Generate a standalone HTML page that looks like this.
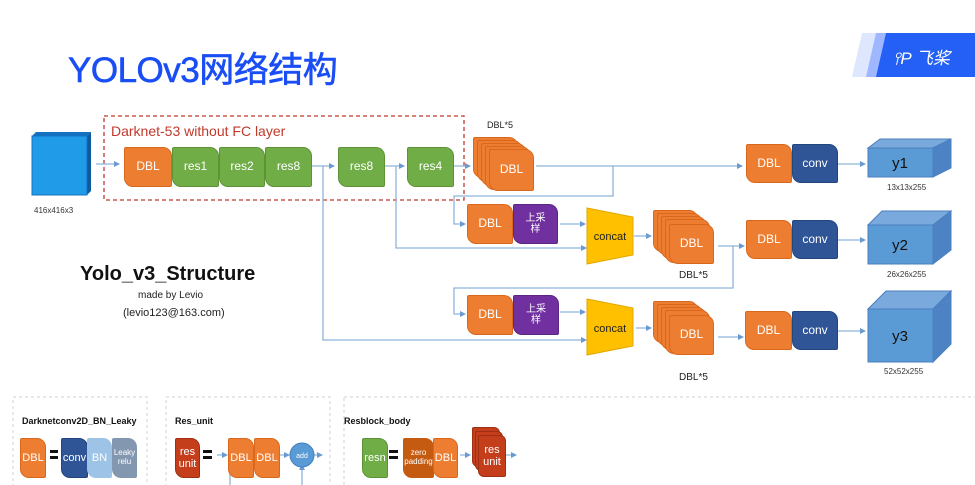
<!DOCTYPE html>
<html><head><meta charset="utf-8"><style>
body{margin:0;width:975px;height:485px;background:#fff;position:relative;overflow:hidden;font-family:"Liberation Sans","Noto Sans CJK SC",sans-serif}
.b{position:absolute;color:#fff;display:flex;align-items:center;justify-content:center;text-align:center;font-size:12px;border-radius:2px 9px 2px 9px;box-sizing:border-box;line-height:1.1}
.o{background:#ed7d31;border:1px solid #d9681d}.g{background:#70ad47;border:1px solid #5e9236}.c{background:#2f5597;border:1px solid #23457e}.p{background:#7030a0;border:1px solid #5b2584}
.r{background:#c43e1c;border:1px solid #9e2f12}
.t{position:absolute;white-space:nowrap}
.s{position:absolute;font-size:8px;color:#333}
</style></head><body>
<div class="t" style="left:68px;top:42px;font-size:35px;color:#1a4ef5;font-family:'Liberation Sans','Noto Sans CJK SC',sans-serif;letter-spacing:-0.5px;-webkit-text-stroke:0.6px #1a4ef5">YOLOv3网络结构</div>
<svg style="position:absolute;left:0;top:0" width="975" height="485">
<polygon points="862,33 975,33 975,77 852,77" fill="#dfe7ff"/>
<polygon points="876,33 975,33 975,77 866,77" fill="#9fb7ff"/>
<polygon points="886,33 975,33 975,77 876,77" fill="#2460f5"/>
<text x="893" y="64" font-size="17" fill="#fff" font-style="italic" font-family="Liberation Sans,Noto Sans CJK SC,sans-serif">⫯P 飞桨</text>
<rect x="104" y="116" width="360" height="84" fill="none" stroke="#c0392b" stroke-width="1.3" stroke-dasharray="4,3"/>
<polygon points="32,136 36,132 91,132 87,136" fill="#1570c0"/>
<polygon points="87,136 91,132 91,191 87,195" fill="#0d5aa0"/>
<rect x="32" y="136" width="55" height="59" fill="#1f9be8" stroke="#1570c0"/>
<g stroke="#8fb4dc" stroke-width="1.3" fill="none">
<path d="M96 164H119M312 166H334M385 166H404M454 166H470M536 166H742M613 166V196H454V224H463M323 166V340H584M396 166V248H584M560 224H583M634 236H649M718 246H742M733 246V288H454V314H463M560 312H583M636 328H649M718 337H741M838 164H863M838 240H863M838 331H863"/>
<path d="M230 455V485M302 485V470M217 455H224M280 455H286M314 455H320M460 455H468M503 455H514"/>
</g>
<g fill="#6a9ad0">
<path d="M120 164l-6-3v6zM335 166l-6-3v6zM405 166l-6-3v6zM471 166l-6-3v6zM743 166l-6-3v6zM466 224l-6-3v6zM587 248l-6-3v6zM587 340l-6-3v6zM586 224l-6-3v6zM652 236l-6-3v6zM745 246l-6-3v6zM466 314l-6-3v6zM586 312l-6-3v6zM652 328l-6-3v6zM744 337l-6-3v6zM866 164l-6-3v6zM866 240l-6-3v6zM866 331l-6-3v6zM228 455l-6-3v6zM290 455l-6-3v6zM323 455l-6-3v6zM302 464l-3 6h6zM471 455l-6-3v6zM517 455l-6-3v6z"/>
</g>
<polygon points="587,208 633,217 633,255 587,264" fill="#ffc000" stroke="#e0a800"/>
<polygon points="587,299 633,308 633,346 587,355" fill="#ffc000" stroke="#e0a800"/>
<text x="610" y="240" font-size="11" text-anchor="middle" fill="#222">concat</text>
<text x="610" y="332" font-size="11" text-anchor="middle" fill="#222">concat</text>
<g stroke="#4a7fbf" stroke-width="1">
<polygon points="868,148 880,139 951,139 933,148" fill="#7aa9de"/><polygon points="933,148 951,139 951,168 933,177" fill="#4d83c4"/><rect x="868" y="148" width="65" height="29" fill="#5b9bd5"/>
<polygon points="868,225 882,211 951,211 933,225" fill="#7aa9de"/><polygon points="933,225 951,211 951,250 933,264" fill="#4d83c4"/><rect x="868" y="225" width="65" height="39" fill="#5b9bd5"/>
<polygon points="868,309 886,291 951,291 933,309" fill="#7aa9de"/><polygon points="933,309 951,291 951,344 933,362" fill="#4d83c4"/><rect x="868" y="309" width="65" height="53" fill="#5b9bd5"/>
</g>
<g font-size="15" fill="#111" text-anchor="middle"><text x="900" y="168">y1</text><text x="900" y="250">y2</text><text x="900" y="341">y3</text></g>
<g fill="none" stroke="#d0d0d0" stroke-dasharray="3,3"><rect x="13" y="397" width="134" height="100"/><rect x="166" y="397" width="164" height="100"/><rect x="344" y="397" width="640" height="100"/></g>
<rect x="50" y="450" width="8" height="3" fill="#111"/><rect x="50" y="456" width="8" height="3" fill="#111"/>
<rect x="203" y="450" width="9" height="3" fill="#111"/><rect x="203" y="456" width="9" height="3" fill="#111"/>
<rect x="389" y="450" width="9" height="3" fill="#111"/><rect x="389" y="456" width="9" height="3" fill="#111"/>
<circle cx="302" cy="455" r="12" fill="#5b9bd5" stroke="#3f7fc0"/><text x="302" y="458" font-size="7" fill="#fff" text-anchor="middle">add</text>
</svg>
<div class="s" style="left:34px;top:206px">416x416x3</div>
<div class="t" style="left:111px;top:123px;font-size:14px;color:#c0392b">Darknet-53 without FC layer</div>
<div class="b o" style="left:124px;top:147px;width:48px;height:40px">DBL</div>
<div class="b g" style="left:172px;top:147px;width:47px;height:40px">res1</div>
<div class="b g" style="left:219px;top:147px;width:46px;height:40px">res2</div>
<div class="b g" style="left:265px;top:147px;width:47px;height:40px">res8</div>
<div class="b g" style="left:338px;top:147px;width:47px;height:40px">res8</div>
<div class="b g" style="left:407px;top:147px;width:47px;height:40px">res4</div>
<div class="t" style="left:80px;top:263px;font-size:20px;font-weight:bold;color:#111">Yolo_v3_Structure</div>
<div class="t" style="left:138px;top:290px;font-size:10px;color:#222">made by Levio</div>
<div class="t" style="left:123px;top:307px;font-size:11px;color:#222">(levio123@163.com)</div>
<div class="t" style="left:487px;top:120px;font-size:9px;color:#222">DBL*5</div>
<div class="b o" style="left:473px;top:137px;width:45px;height:41px"></div>
<div class="b o" style="left:477px;top:140px;width:45px;height:42px"></div>
<div class="b o" style="left:481px;top:143px;width:45px;height:43px"></div>
<div class="b o" style="left:485px;top:146px;width:45px;height:44px"></div>
<div class="b o" style="left:489px;top:149px;width:45px;height:42px">DBL</div>
<div class="b o" style="left:653px;top:210px;width:45px;height:42px"></div>
<div class="b o" style="left:657px;top:213px;width:45px;height:42px"></div>
<div class="b o" style="left:661px;top:216px;width:45px;height:43px"></div>
<div class="b o" style="left:665px;top:219px;width:45px;height:44px"></div>
<div class="b o" style="left:669px;top:224px;width:45px;height:40px">DBL</div>
<div class="t" style="left:679px;top:270px;font-size:10px;color:#222">DBL*5</div>
<div class="b o" style="left:653px;top:301px;width:45px;height:42px"></div>
<div class="b o" style="left:657px;top:304px;width:45px;height:42px"></div>
<div class="b o" style="left:661px;top:307px;width:45px;height:43px"></div>
<div class="b o" style="left:665px;top:310px;width:45px;height:44px"></div>
<div class="b o" style="left:669px;top:315px;width:45px;height:40px">DBL</div>
<div class="t" style="left:679px;top:372px;font-size:10px;color:#222">DBL*5</div>
<div class="b o" style="left:467px;top:204px;width:46px;height:40px">DBL</div>
<div class="b p" style="left:513px;top:204px;width:45px;height:40px;font-size:10px">上采<br>样</div>
<div class="b o" style="left:467px;top:295px;width:46px;height:40px">DBL</div>
<div class="b p" style="left:513px;top:295px;width:46px;height:40px;font-size:10px">上采<br>样</div>
<div class="b o" style="left:746px;top:144px;width:46px;height:39px">DBL</div>
<div class="b c" style="left:792px;top:144px;width:46px;height:39px">conv</div>
<div class="b o" style="left:746px;top:220px;width:46px;height:39px">DBL</div>
<div class="b c" style="left:792px;top:220px;width:46px;height:39px">conv</div>
<div class="b o" style="left:745px;top:311px;width:47px;height:39px">DBL</div>
<div class="b c" style="left:792px;top:311px;width:46px;height:39px">conv</div>
<div class="s" style="left:887px;top:183px">13x13x255</div>
<div class="s" style="left:887px;top:270px">26x26x255</div>
<div class="s" style="left:884px;top:367px">52x52x255</div>
<div class="t" style="left:22px;top:416px;font-size:9px;font-weight:bold;color:#111">Darknetconv2D_BN_Leaky</div>
<div class="t" style="left:175px;top:416px;font-size:9px;font-weight:bold;color:#111">Res_unit</div>
<div class="t" style="left:344px;top:416px;font-size:9px;font-weight:bold;color:#111">Resblock_body</div>
<div class="b o" style="left:20px;top:438px;width:26px;height:40px;font-size:11px">DBL</div>
<div class="b c" style="left:61px;top:438px;width:27px;height:40px;font-size:11px">conv</div>
<div class="b" style="left:87px;top:438px;width:25px;height:40px;background:#9dc3e6;font-size:11px">BN</div>
<div class="b" style="left:112px;top:438px;width:25px;height:40px;background:#8497b0;font-size:8px">Leaky<br>relu</div>
<div class="b r" style="left:175px;top:438px;width:25px;height:40px;font-size:11px">res<br>unit</div>
<div class="b o" style="left:228px;top:438px;width:26px;height:40px;font-size:11px">DBL</div>
<div class="b o" style="left:254px;top:438px;width:26px;height:40px;font-size:11px">DBL</div>
<div class="b g" style="left:362px;top:438px;width:26px;height:40px;font-size:11px">resn</div>
<div class="b" style="left:403px;top:438px;width:31px;height:40px;background:#c55a11;font-size:8px">zero<br>padding</div>
<div class="b o" style="left:433px;top:438px;width:25px;height:40px;font-size:11px">DBL</div>
<div class="b r" style="left:472px;top:427px;width:28px;height:40px;border-radius:2px 6px 2px 6px"></div>
<div class="b r" style="left:475px;top:431px;width:28px;height:40px;border-radius:2px 6px 2px 6px"></div>
<div class="b r" style="left:478px;top:435px;width:28px;height:42px;font-size:11px;border-radius:2px 6px 2px 6px">res<br>unit</div>
</body></html>
